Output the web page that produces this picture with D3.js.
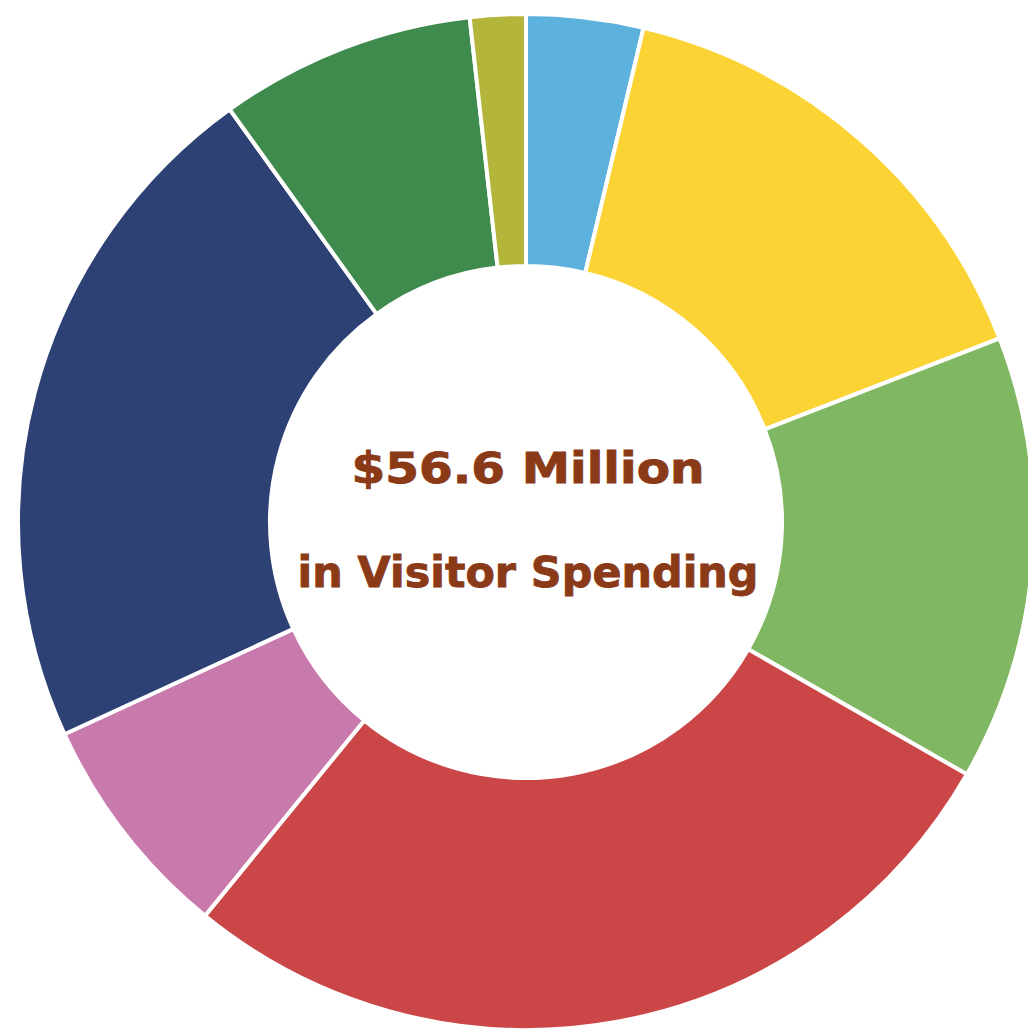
<!DOCTYPE html>
<html>
<head>
<meta charset="utf-8">
<script src="https://cdn.jsdelivr.net/npm/d3@7"></script>
<style>
  html, body { margin: 0; padding: 0; background: #ffffff; }
  svg { display: block; }
</style>
</head>
<body>
<svg id="chart" width="1028" height="1032"></svg>
<script>
// Data (millions of dollars), clockwise from 12 o'clock
const categories = ["Transportation", "Gas", "Retail", "Hotels", "Recreation Industries", "Restaurants", "Groceries", "Camping"];
const values     = [2.1, 8.7, 8.0, 15.6, 4.1, 12.4, 4.6, 1.0];
const colors     = ["#5db2dd", "#fbd334", "#80b762", "#cb4647", "#c97aac", "#2e4175", "#3f8b4d", "#b4b63c"];
const centerLines = ["$56.6 Million", "in Visitor Spending"];

const data = categories.map((c, i) => ({ category: c, value: values[i], color: colors[i] }));

const svg = d3.select("#chart");
const cx = 526, cy = 522;
const outerR = 508, innerR = 256;

const g = svg.append("g").attr("transform", `translate(${cx},${cy})`);

const pie = d3.pie().value(d => d.value).sort(null).startAngle(0).endAngle(2 * Math.PI);
const arc = d3.arc().innerRadius(innerR).outerRadius(outerR);

g.selectAll("path.slice")
  .data(pie(data))
  .join("path")
  .attr("class", "slice")
  .attr("d", arc)
  .attr("fill", d => d.data.color)
  .attr("stroke", "#ffffff")
  .attr("stroke-width", 4)
  .attr("stroke-linejoin", "miter");

const lineWidths = [353, 461];
g.selectAll("text.center")
  .data(centerLines)
  .join("text")
  .attr("class", "center")
  .attr("x", 2)
  .attr("y", (d, i) => i === 0 ? -39 : 65)
  .attr("text-anchor", "middle")
  .attr("font-family", "'DejaVu Sans', Verdana, sans-serif")
  .attr("font-weight", "bold")
  .attr("font-size", 43)
  .attr("textLength", (d, i) => lineWidths[i])
  .attr("lengthAdjust", "spacingAndGlyphs")
  .attr("fill", "#8b3a18")
  .attr("stroke", "#8b3a18")
  .attr("stroke-width", 0.9)
  .text(d => d);
</script>
</body>
</html>
